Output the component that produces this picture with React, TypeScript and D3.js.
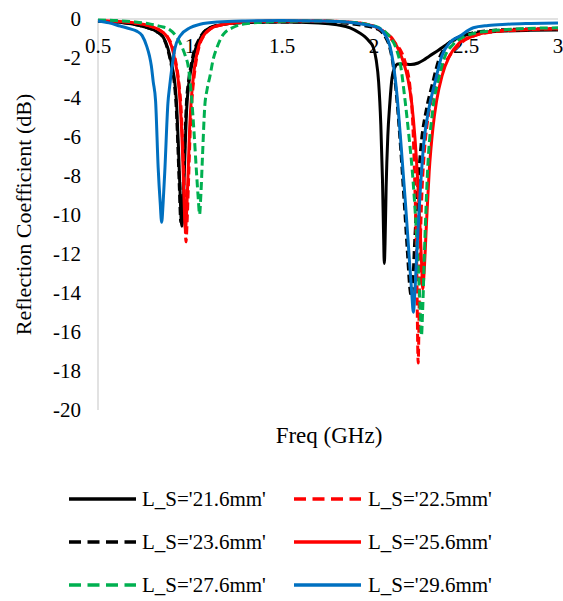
import React from 'react';
import * as d3 from 'd3';

// ---- data (frequency GHz, reflection coefficient dB) ----
const FREQ_TICKS = [0.5, 1, 1.5, 2, 2.5, 3];
const DB_TICKS = [0, -2, -4, -6, -8, -10, -12, -14, -16, -18, -20];

const LS_21_6: [number, number][] = [
  [0.5, -0.1], [0.6, -0.15], [0.7, -0.28], [0.77, -0.45], [0.82, -0.65], [0.853, -0.9], [0.88, -1.5], [0.9, -2.3],
  [0.918, -3.3], [0.928, -4.5], [0.937, -6.5], [0.945, -8.6], [0.952, -10.3], [0.956, -10.6], [0.962, -9.8],
  [0.97, -7.6], [0.982, -4.6], [0.995, -3.2], [1.009, -2.4], [1.025, -1.7], [1.045, -1.2], [1.09, -0.55],
  [1.163, -0.3], [1.3, -0.18], [1.5, -0.15], [1.7, -0.2], [1.8, -0.3], [1.87, -0.45], [1.92, -0.7], [1.95, -0.9],
  [1.975, -1.15], [1.996, -1.45], [2.012, -2.1], [2.025, -3.2], [2.037, -5.4], [2.046, -8.2], [2.052, -11.0],
  [2.056, -12.5], [2.06, -11.5], [2.066, -8.6], [2.075, -6.0], [2.086, -4.3], [2.098, -3.0], [2.112, -2.5],
  [2.13, -2.3], [2.16, -2.3], [2.2, -2.33], [2.24, -2.25], [2.27, -2.1], [2.3, -1.9], [2.35, -1.6], [2.395, -1.3],
  [2.456, -0.96], [2.52, -0.78], [2.6, -0.68], [2.7, -0.62], [2.85, -0.58], [3.0, -0.56],
];

const LS_22_5: [number, number][] = [
  [0.5, -0.08], [0.6, -0.12], [0.7, -0.2], [0.78, -0.35], [0.84, -0.6], [0.877, -0.9], [0.903, -1.4], [0.923, -2.2],
  [0.94, -3.3], [0.951, -4.5], [0.961, -6.6], [0.97, -9.0], [0.978, -11.4], [0.985, -10.2], [0.993, -8.0],
  [1.001, -5.8], [1.011, -4.1], [1.023, -2.9], [1.038, -1.9], [1.053, -1.3], [1.073, -0.9], [1.113, -0.5],
  [1.18, -0.28], [1.3, -0.15], [1.5, -0.1], [1.7, -0.1], [1.85, -0.15], [1.95, -0.25], [2.02, -0.45], [2.06, -0.7],
  [2.09, -1.0], [2.12, -1.3], [2.15, -1.7], [2.175, -2.4], [2.196, -3.5], [2.21, -5.2], [2.222, -8.5],
  [2.232, -12.5], [2.24, -17.6], [2.248, -13.0], [2.258, -9.5], [2.272, -7.0], [2.29, -5.3], [2.31, -4.2],
  [2.335, -3.3], [2.36, -2.7], [2.41, -1.9], [2.47, -1.25], [2.54, -0.87], [2.63, -0.68], [2.72, -0.6],
  [2.85, -0.54], [3.0, -0.5],
];

const LS_23_6: [number, number][] = [
  [0.5, -0.1], [0.6, -0.15], [0.7, -0.28], [0.77, -0.45], [0.82, -0.65], [0.85, -0.9], [0.877, -1.5], [0.897, -2.3],
  [0.915, -3.3], [0.925, -4.5], [0.934, -6.5], [0.942, -8.6], [0.95, -10.4], [0.956, -9.9], [0.963, -8.5],
  [0.97, -6.8], [0.98, -4.4], [0.993, -3.1], [1.007, -2.3], [1.023, -1.6], [1.043, -1.15], [1.088, -0.55],
  [1.16, -0.3], [1.3, -0.18], [1.5, -0.15], [1.7, -0.15], [1.85, -0.22], [1.95, -0.35], [2.0, -0.45], [2.033, -0.6],
  [2.06, -0.9], [2.085, -1.45], [2.103, -2.3], [2.12, -3.7], [2.14, -6.0], [2.163, -9.2], [2.182, -12.0],
  [2.195, -13.8], [2.203, -14.2], [2.211, -13.4], [2.222, -11.2], [2.237, -8.8], [2.255, -6.5], [2.285, -4.6],
  [2.315, -3.4], [2.355, -2.0], [2.4, -1.3], [2.455, -0.95], [2.54, -0.7], [2.65, -0.58], [2.8, -0.52], [3.0, -0.5],
];

const LS_25_6: [number, number][] = [
  [0.5, -0.08], [0.6, -0.12], [0.7, -0.2], [0.78, -0.35], [0.84, -0.6], [0.875, -0.9], [0.9, -1.4], [0.92, -2.2],
  [0.938, -3.3], [0.948, -4.5], [0.958, -6.5], [0.966, -8.7], [0.975, -10.8], [0.982, -9.8], [0.99, -7.8],
  [0.998, -5.6], [1.008, -4.0], [1.02, -2.8], [1.035, -1.9], [1.05, -1.3], [1.07, -0.9], [1.11, -0.5],
  [1.18, -0.28], [1.3, -0.15], [1.5, -0.1], [1.7, -0.1], [1.85, -0.15], [1.95, -0.25], [2.02, -0.45], [2.07, -0.75],
  [2.1, -1.0], [2.13, -1.5], [2.16, -2.2], [2.185, -3.1], [2.205, -4.3], [2.222, -6.0], [2.237, -8.2],
  [2.25, -10.6], [2.26, -12.8], [2.265, -13.8], [2.272, -13.0], [2.285, -10.5], [2.3, -7.8], [2.32, -5.6],
  [2.34, -4.2], [2.37, -2.9], [2.41, -1.9], [2.46, -1.25], [2.54, -0.87], [2.63, -0.65], [2.72, -0.58],
  [2.85, -0.52], [3.0, -0.5],
];

const LS_27_6: [number, number][] = [
  [0.5, -0.05], [0.6, -0.08], [0.7, -0.15], [0.78, -0.25], [0.84, -0.38], [0.89, -0.55], [0.93, -0.95],
  [0.955, -1.4], [0.975, -1.9], [0.99, -2.4], [1.009, -4.1], [1.022, -5.8], [1.035, -7.8], [1.045, -9.2],
  [1.052, -10.0], [1.059, -9.0], [1.068, -7.0], [1.08, -4.5], [1.093, -3.6], [1.109, -2.9], [1.125, -2.1],
  [1.145, -1.5], [1.18, -0.8], [1.23, -0.45], [1.3, -0.25], [1.5, -0.12], [1.7, -0.1], [1.85, -0.15],
  [1.95, -0.25], [2.02, -0.42], [2.06, -0.65], [2.09, -0.95], [2.12, -1.5], [2.145, -2.4], [2.168, -4.1],
  [2.19, -6.0], [2.21, -8.0], [2.228, -10.5], [2.242, -13.0], [2.252, -15.0], [2.258, -16.2], [2.264, -15.0],
  [2.274, -12.0], [2.29, -8.0], [2.32, -4.6], [2.35, -3.1], [2.386, -1.9], [2.43, -1.3], [2.48, -0.95],
  [2.55, -0.72], [2.64, -0.6], [2.75, -0.52], [2.88, -0.47], [3.0, -0.45],
];

const LS_29_6: [number, number][] = [
  [0.5, -0.1], [0.56, -0.2], [0.62, -0.36], [0.68, -0.52], [0.71, -0.62], [0.74, -0.85], [0.765, -1.4],
  [0.78, -1.9], [0.79, -2.4], [0.8, -3.2], [0.813, -4.2], [0.827, -7.6], [0.838, -9.4], [0.846, -10.4],
  [0.854, -9.4], [0.864, -7.6], [0.88, -4.3], [0.89, -3.4], [0.9, -2.6], [0.918, -1.5], [0.946, -0.87],
  [1.0, -0.45], [1.055, -0.27], [1.15, -0.15], [1.3, -0.1], [1.5, -0.08], [1.7, -0.1], [1.85, -0.15],
  [1.95, -0.28], [2.0, -0.38], [2.033, -0.5], [2.06, -0.8], [2.087, -1.4], [2.105, -2.3], [2.124, -3.8],
  [2.145, -6.2], [2.17, -9.3], [2.19, -12.0], [2.205, -14.0], [2.214, -15.0], [2.222, -14.0], [2.235, -11.5],
  [2.25, -9.0], [2.27, -6.4], [2.3, -4.5], [2.33, -3.3], [2.368, -1.9], [2.413, -1.2], [2.467, -0.87],
  [2.54, -0.45], [2.62, -0.33], [2.72, -0.27], [2.85, -0.23], [3.0, -0.2],
];

const LABELS = ["L_S='21.6mm'", "L_S='22.5mm'", "L_S='23.6mm'", "L_S='25.6mm'", "L_S='27.6mm'", "L_S='29.6mm'"];
const DATASETS = [LS_21_6, LS_22_5, LS_23_6, LS_25_6, LS_27_6, LS_29_6];

// ---- styles ----
const COLORS = ['#000000', '#FF0000', '#000000', '#FF0000', '#00B050', '#0070C0'];
const DASHED = [false, true, true, false, true, false];
const DRAW_ORDER = [0, 2, 1, 3, 4, 5];

const W = 563;
const H = 601;
const FONT = "'Liberation Serif', Tinos, 'Times New Roman', Times, 'DejaVu Serif', 'Noto Serif', FreeSerif, serif";

export default function App() {
  const x = d3.scaleLinear().domain([0.5, 3]).range([98, 558]);
  const y = d3.scaleLinear().domain([0, -20]).range([19, 410]);
  const line = d3
    .line<[number, number]>()
    .x((d) => x(d[0]))
    .y((d) => y(d[1]))
    .curve(d3.curveMonotoneX);

  const legendRows = [499, 542, 585];
  const legendCols = [
    { lx0: 69, lx1: 136, tx: 142 },
    { lx0: 294, lx1: 361, tx: 368 },
  ];
  const txt = { fontFamily: FONT };

  return (
    <svg
      width={W}
      height={H}
      style={{ position: 'absolute', left: 0, top: 0, background: '#fff', fontFamily: FONT }}
    >
      <rect x={0} y={0} width={W} height={H} fill="#fff" />
      {/* axes */}
      <line x1={x(0.5)} x2={x(3)} y1={y(0)} y2={y(0)} stroke="#D9D9D9" strokeWidth={1.5} />
      <line x1={x(0.5)} x2={x(0.5)} y1={y(0)} y2={y(-20)} stroke="#D9D9D9" strokeWidth={1.5} />

      {/* y tick labels */}
      {DB_TICKS.map((t) => (
        <text key={t} x={81} y={y(t)} dy="0.35em" textAnchor="end" fontSize={21} fill="#000" style={txt}>
          {t}
        </text>
      ))}
      {/* x tick labels */}
      {FREQ_TICKS.map((t) => (
        <text key={t} x={x(t)} y={53} textAnchor="middle" fontSize={21} fill="#000" style={txt}>
          {t}
        </text>
      ))}

      {/* series */}
      {DRAW_ORDER.map((i) => (
        <path
          key={i}
          d={line(DATASETS[i]) || ''}
          fill="none"
          stroke={COLORS[i]}
          strokeWidth={3}
          strokeDasharray={DASHED[i] ? '8,4' : undefined}
          strokeLinejoin="round"
        />
      ))}

      {/* axis titles */}
      <text x={329} y={443} textAnchor="middle" fontSize={23} fill="#000" style={txt}>
        Freq (GHz)
      </text>
      <text
        transform={`translate(31, ${y(-10)}) rotate(-90)`}
        textAnchor="middle"
        fontSize={22}
        fill="#000"
        style={txt}
      >
        Reflection Coefficient (dB)
      </text>

      {/* legend */}
      {LABELS.map((lab, i) => {
        const row = legendRows[Math.floor(i / 2)];
        const col = legendCols[i % 2];
        return (
          <g key={lab}>
            <line
              x1={col.lx0}
              x2={col.lx1}
              y1={row}
              y2={row}
              stroke={COLORS[i]}
              strokeWidth={3.5}
              strokeDasharray={DASHED[i] ? '12,6.5' : undefined}
            />
            <text x={col.tx} y={row} dy="0.35em" fontSize={21} fill="#000" style={txt}>
              {lab}
            </text>
          </g>
        );
      })}
    </svg>
  );
}
